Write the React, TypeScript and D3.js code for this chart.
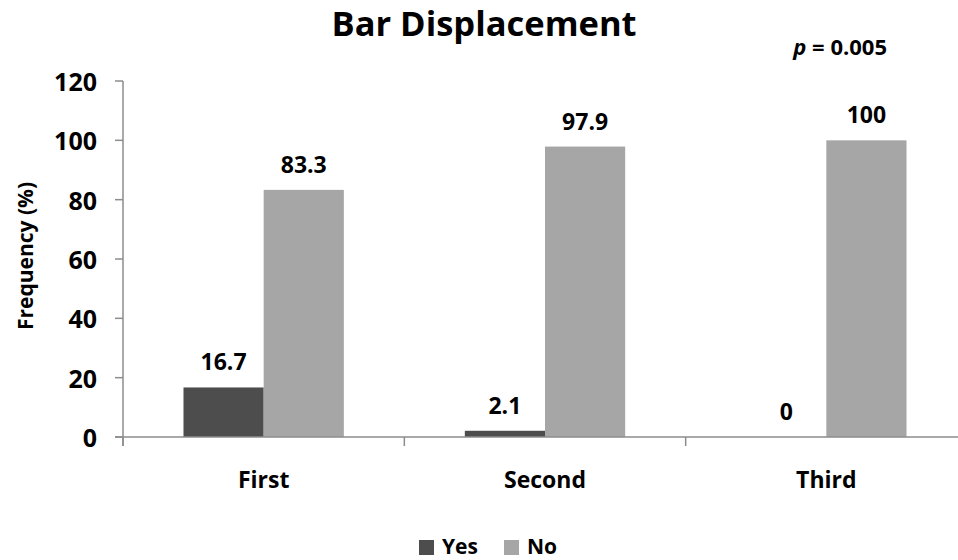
import * as d3 from "d3";

const categories = ["First", "Second", "Third"];
const seriesNames = ["Yes", "No"];
const yesValues = [16.7, 2.1, 0];
const noValues = [83.3, 97.9, 100];
const yTicks = [0, 20, 40, 60, 80, 100, 120];

const colors: Record<string, string> = { Yes: "#4d4d4d", No: "#a6a6a6" };
const font = "'Open Sans', sans-serif";

export default function App() {
  const width = 958;
  const height = 560;
  const left = 123;
  const right = 967;
  const top = 81;
  const bottom = 437;

  const x0 = d3
    .scaleBand<string>()
    .domain(categories)
    .range([left, right])
    .paddingInner(0.43)
    .paddingOuter(0.215);
  const x1 = d3.scaleBand<string>().domain(seriesNames).range([0, x0.bandwidth()]);
  const y = d3.scaleLinear().domain([0, 120]).range([bottom, top]);

  const step = x0.step();
  const rows = categories.map((c, i) => ({ cat: c, Yes: yesValues[i], No: noValues[i] }));

  return (
    <svg width={width} height={height} style={{ position: "absolute", left: 0, top: 0 }}>
      <rect width={width} height={height} fill="#fff" />
      <text x={484} y={36} textAnchor="middle" fontFamily={font} fontWeight="bold" fontSize={34.5}>
        Bar Displacement
      </text>
      <text x={887} y={55} textAnchor="end" fontFamily={font} fontWeight="bold" fontSize={22}>
        <tspan fontStyle="italic">p</tspan> = 0.005
      </text>

      {/* y axis */}
      <line x1={left} x2={left} y1={top} y2={bottom + 9} stroke="#8c8c8c" strokeWidth={1.5} />
      {yTicks.map((t) => (
        <g key={t}>
          <line x1={left - 8} x2={left} y1={y(t)} y2={y(t)} stroke="#8c8c8c" strokeWidth={1.5} />
          <text x={97} y={y(t) + 10} textAnchor="end" fontFamily={font} fontWeight="bold" fontSize={25}>
            {t}
          </text>
        </g>
      ))}
      <text
        transform={`translate(26,256) rotate(-90)`}
        textAnchor="middle"
        dy="0.35em"
        fontFamily={font}
        fontWeight="bold"
        fontSize={21}
      >
        Frequency (%)
      </text>

      {/* bars */}
      {rows.map((r) =>
        seriesNames.map((s) => {
          const v = (r as any)[s] as number;
          const bx = x0(r.cat)! + x1(s)!;
          return (
            <g key={r.cat + s}>
              <rect x={bx} y={y(v)} width={x1.bandwidth()} height={bottom - y(v)} fill={colors[s]} />
              <text
                x={bx + x1.bandwidth() / 2}
                y={y(v) - 17}
                textAnchor="middle"
                fontFamily={font}
                fontWeight="bold"
                fontSize={23}
              >
                {v}
              </text>
            </g>
          );
        })
      )}

      {/* x axis */}
      <line x1={left - 8} x2={right} y1={bottom} y2={bottom} stroke="#8c8c8c" strokeWidth={1.5} />
      {categories.map((c, i) => (
        <line
          key={"tk" + c}
          x1={left + step * i}
          x2={left + step * i}
          y1={bottom}
          y2={bottom + 9}
          stroke="#8c8c8c"
          strokeWidth={1.5}
        />
      ))}
      {categories.map((c) => (
        <text
          key={c}
          x={x0(c)! + x0.bandwidth() / 2}
          y={488}
          textAnchor="middle"
          fontFamily={font}
          fontWeight="bold"
          fontSize={23}
        >
          {c}
        </text>
      ))}

      {/* legend */}
      {seriesNames.map((s, i) => {
        const lx = 419 + i * 85;
        return (
          <g key={"lg" + s}>
            <rect x={lx} y={540} width={15} height={15} fill={colors[s]} />
            <text x={lx + 23} y={554} fontFamily={font} fontWeight="bold" fontSize={21}>
              {s}
            </text>
          </g>
        );
      })}
    </svg>
  );
}
